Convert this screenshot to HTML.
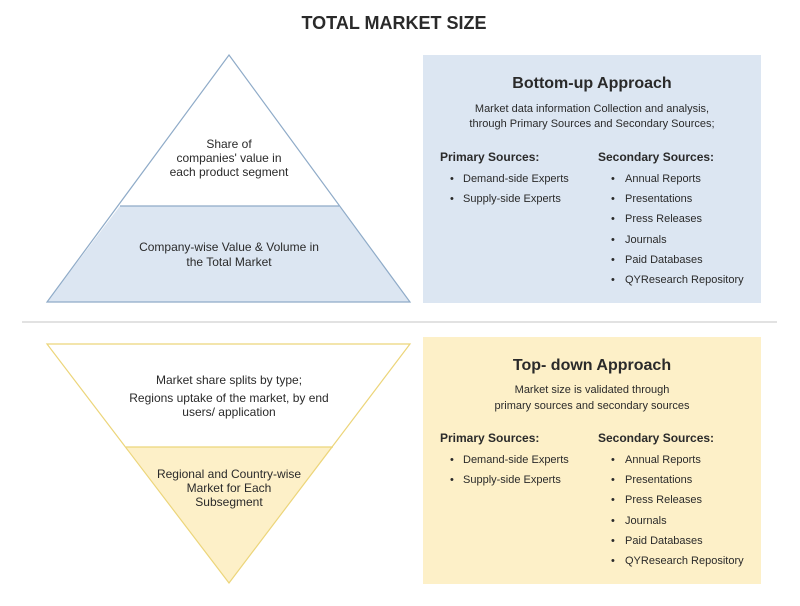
<!DOCTYPE html>
<html><head><meta charset="utf-8"><style>
html,body{margin:0;padding:0;background:#fff}
svg{display:block}
text{font-family:"Liberation Sans",sans-serif;fill:#2a2a2a}
</style></head><body>
<svg width="800" height="606" viewBox="0 0 800 606">
<text x="394" y="29" font-size="18" font-weight="bold" text-anchor="middle" fill="#222">TOTAL MARKET SIZE</text>
<!-- top pyramid -->
<polygon points="120,206 339,206 410,302 47,302" fill="#dce6f2"/>
<polygon points="229,55 410,302 47,302" fill="none" stroke="#8fabc8" stroke-width="1.2"/>
<line x1="120" y1="206" x2="339" y2="206" stroke="#8fabc8" stroke-width="1.2"/>
<g font-size="12" text-anchor="middle">
<text x="229" y="148">Share of</text>
<text x="229" y="162">companies' value in</text>
<text x="229" y="176">each product segment</text>
<text x="229" y="251">Company-wise Value &amp; Volume in</text>
<text x="229" y="266">the Total Market</text>
</g>
<line x1="22" y1="322" x2="777" y2="322" stroke="#d8d8d8" stroke-width="1.5"/>
<!-- bottom pyramid -->
<polygon points="126,447 333,447 229,583" fill="#fdf0c8"/>
<polygon points="47,344 410,344 229,583" fill="none" stroke="#ecd57a" stroke-width="1.2"/>
<line x1="126" y1="447" x2="333" y2="447" stroke="#ecd57a" stroke-width="1.2"/>
<g font-size="12" text-anchor="middle">
<text x="229" y="384">Market share splits by type;</text>
<text x="229" y="402">Regions uptake of the market, by end</text>
<text x="229" y="416">users/ application</text>
<text x="229" y="478">Regional and Country-wise</text>
<text x="229" y="492">Market for Each</text>
<text x="229" y="506">Subsegment</text>
</g>
<!-- blue box -->
<rect x="423" y="55" width="338" height="248" fill="#dce6f2"/>
<text x="592" y="88" font-size="16" font-weight="bold" text-anchor="middle">Bottom-up Approach</text>
<text x="592" y="112" font-size="11" text-anchor="middle" fill="#444">Market data information Collection and analysis,</text>
<text x="592" y="127" font-size="11" text-anchor="middle" fill="#444">through Primary Sources and Secondary Sources;</text>
<g font-size="12" font-weight="bold"><text x="440" y="161">Primary Sources:</text><text x="598" y="161">Secondary Sources:</text></g>
<g font-size="11" fill="#444">
<text x="450" y="182">•</text><text x="463" y="182">Demand-side Experts</text>
<text x="450" y="202">•</text><text x="463" y="202">Supply-side Experts</text>
<text x="611" y="182">•</text><text x="625" y="182">Annual Reports</text>
<text x="611" y="202">•</text><text x="625" y="202">Presentations</text>
<text x="611" y="222">•</text><text x="625" y="222">Press Releases</text>
<text x="611" y="243">•</text><text x="625" y="243">Journals</text>
<text x="611" y="263">•</text><text x="625" y="263">Paid Databases</text>
<text x="611" y="283">•</text><text x="625" y="283">QYResearch Repository</text>
</g>
<!-- yellow box -->
<rect x="423" y="337" width="338" height="247" fill="#fdf0c8"/>
<text x="592" y="370" font-size="16" font-weight="bold" text-anchor="middle">Top-  down Approach</text>
<text x="592" y="393" font-size="11" text-anchor="middle" fill="#444">Market size is validated through</text>
<text x="592" y="409" font-size="11" text-anchor="middle" fill="#444">primary sources and secondary sources</text>
<g font-size="12" font-weight="bold"><text x="440" y="442">Primary Sources:</text><text x="598" y="442">Secondary Sources:</text></g>
<g font-size="11" fill="#444">
<text x="450" y="463">•</text><text x="463" y="463">Demand-side Experts</text>
<text x="450" y="483">•</text><text x="463" y="483">Supply-side Experts</text>
<text x="611" y="463">•</text><text x="625" y="463">Annual Reports</text>
<text x="611" y="483">•</text><text x="625" y="483">Presentations</text>
<text x="611" y="503">•</text><text x="625" y="503">Press Releases</text>
<text x="611" y="524">•</text><text x="625" y="524">Journals</text>
<text x="611" y="544">•</text><text x="625" y="544">Paid Databases</text>
<text x="611" y="564">•</text><text x="625" y="564">QYResearch Repository</text>
</g>
</svg>
</body></html>
